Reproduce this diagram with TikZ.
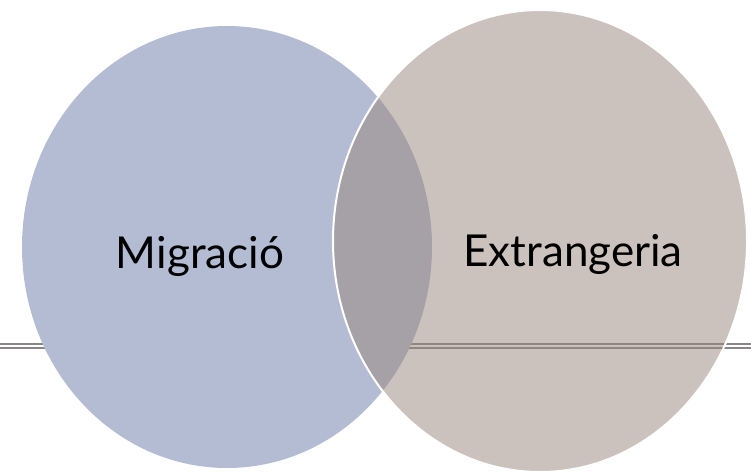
\documentclass[tikz,border=0pt]{standalone}
\usepackage{fontspec}
\setmainfont{Lato}
\usetikzlibrary{
    positioning,
    shapes.geometric
}

\definecolor{migblue}{RGB}{180,188,212}
\definecolor{extbrown}{RGB}{153,133,123}
\definecolor{rulegray}{RGB}{138,134,134}

\begin{document}
\begin{tikzpicture}[
    x=1pt, y=-1pt,
    bubble/.style={
        ellipse,
        inner sep=0pt,
        outer sep=0pt
    },
    label/.style={
        font=\fontsize{44}{48}\selectfont,
        text=black
    },
    rule/.style={
        draw=rulegray,
        double=white,
        double distance=1.6pt,
        line width=2.2pt
    }
]

% Set bounding box to ensure all content is visible
\useasboundingbox (0,0) rectangle (751,474);

% ================= RULE =================
\coordinate (ruleL) at (0,346);
\coordinate (ruleR) at (751,346);
\draw[rule] (ruleL) -- (ruleR);

% ================= LEFT SET =================
\node[bubble, fill=migblue, minimum width=410pt, minimum height=442pt] (migr) at (227,247) {};

% ================= RIGHT SET =================
\node[bubble, fill=extbrown, fill opacity=0.5, draw=white, line width=2pt,
      minimum width=414pt, minimum height=462pt] (extr) at (540,241) {};

% ================= LABELS =================
\node[label] (migrtxt) at (200,256) {Migració};
\node[label] (extrtxt) at (573,254) {Extrangeria};

\end{tikzpicture}
\end{document}
